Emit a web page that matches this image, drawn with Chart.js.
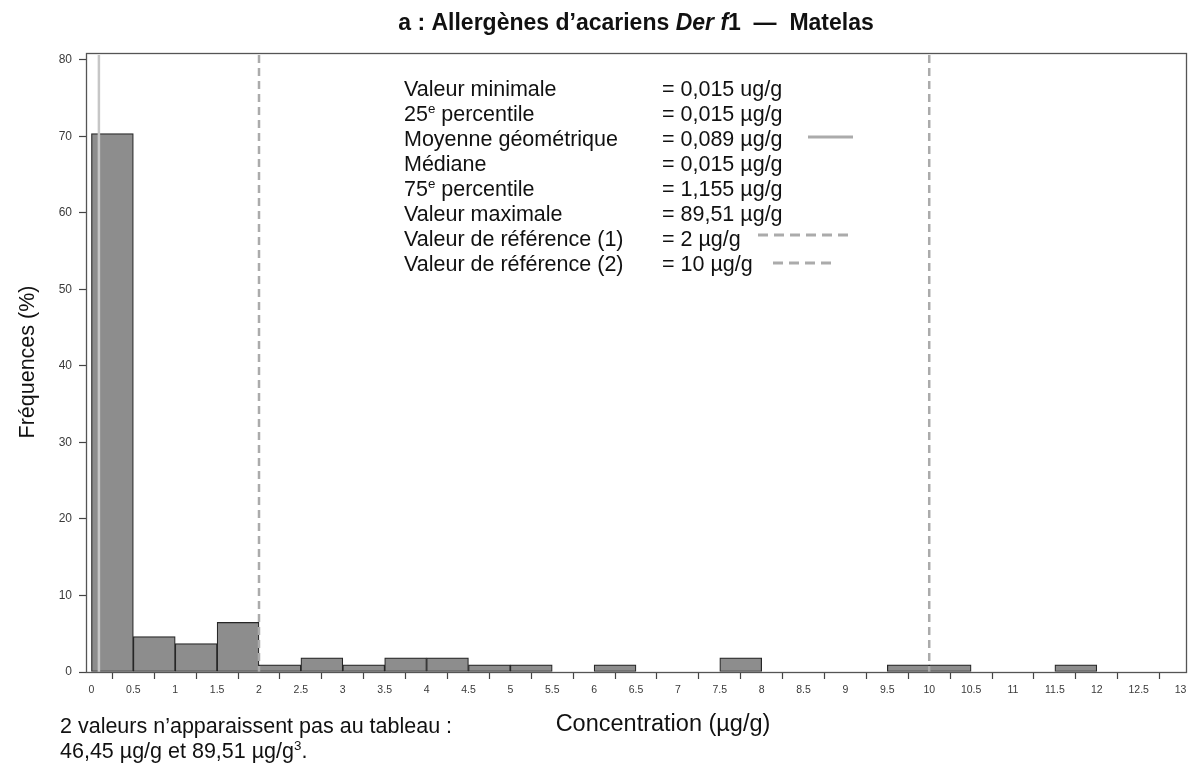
<!DOCTYPE html>
<html>
<head>
<meta charset="utf-8">
<script src="https://cdn.jsdelivr.net/npm/chart.js@4.4.1/dist/chart.umd.min.js"></script>
<style>
  html, body { margin: 0; padding: 0; background: #ffffff; }
  #wrap { width: 1195px; height: 764px; }
</style>
</head>
<body>
<div id="wrap"><canvas id="chart" width="1195" height="764"></canvas></div>
<script>
// Histogram bins (lower edge, µg/g) and frequency of samples in each bin (%)
const binStarts = [0, 0.5, 1, 1.5, 2, 2.5, 3, 3.5, 4, 4.5, 5, 5.5, 6, 6.5, 7, 7.5, 8, 8.5, 9, 9.5, 10, 10.5, 11, 11.5, 12, 12.5];
const frequencies = [70.37, 4.63, 3.70, 6.48, 0.93, 1.85, 0.93, 1.85, 1.85, 0.93, 0.93, 0, 0.93, 0, 0, 1.85, 0, 0, 0, 0.93, 0.93, 0, 0, 0.93, 0, 0];
const binWidth = 0.5;

// Axis ticks
const xTickValues = [0, 0.5, 1, 1.5, 2, 2.5, 3, 3.5, 4, 4.5, 5, 5.5, 6, 6.5, 7, 7.5, 8, 8.5, 9, 9.5, 10, 10.5, 11, 11.5, 12, 12.5, 13];
const yTickValues = [0, 10, 20, 30, 40, 50, 60, 70, 80];

// Reference lines
const geometricMean = 0.089;
const referenceValues = [2, 10];

// Summary table ('^' raises the next character)
const statLabels = [
  'Valeur minimale',
  '25^e percentile',
  'Moyenne géométrique',
  'Médiane',
  '75^e percentile',
  'Valeur maximale',
  'Valeur de référence (1)',
  'Valeur de référence (2)'
];
const statValues = [
  '= 0,015 ug/g',
  '= 0,015 µg/g',
  '= 0,089 µg/g',
  '= 0,015 µg/g',
  '= 1,155 µg/g',
  '= 89,51 µg/g',
  '= 2 µg/g',
  '= 10 µg/g'
];

const titleParts = [
  { text: 'a : Allergènes d’acariens ', italic: false },
  { text: 'Der f', italic: true },
  { text: '1  —  Matelas', italic: false }
];
const xTitle = 'Concentration (µg/g)';
const yTitle = 'Fréquences (%)';
const noteLines = ['2 valeurs n’apparaissent pas au tableau :', '46,45 µg/g et 89,51 µg/g^3.'];

const FAMILY = '"Liberation Sans", Arial, Helvetica, sans-serif';

function drawRich(ctx, str, x, y, size, color) {
  const parts = [];
  for (let i = 0; i < str.length; i++) {
    if (str[i] === '^') { parts.push({ t: str[i + 1], sup: true }); i++; }
    else if (parts.length && !parts[parts.length - 1].sup) parts[parts.length - 1].t += str[i];
    else parts.push({ t: str[i], sup: false });
  }
  ctx.fillStyle = color;
  ctx.textAlign = 'left';
  ctx.textBaseline = 'alphabetic';
  let cx = x;
  for (const p of parts) {
    const s = p.sup ? size * 0.62 : size;
    ctx.font = s + 'px ' + FAMILY;
    ctx.fillText(p.t, cx, p.sup ? y - size * 0.38 : y);
    cx += ctx.measureText(p.t).width;
  }
}

const overlay = {
  id: 'overlay',
  afterDatasetsDraw(chart) {
    const { ctx, chartArea: a, scales: { x } } = chart;
    ctx.save();
    // geometric mean
    ctx.strokeStyle = '#c6c6c6';
    ctx.lineWidth = 2.5;
    const gx = x.getPixelForValue(geometricMean);
    ctx.beginPath(); ctx.moveTo(gx, a.top + 2); ctx.lineTo(gx, a.bottom); ctx.stroke();
    // reference values
    ctx.strokeStyle = '#ababab';
    ctx.setLineDash([8, 5]);
    for (const v of referenceValues) {
      const px = x.getPixelForValue(v);
      ctx.beginPath(); ctx.moveTo(px, a.top + 2); ctx.lineTo(px, a.bottom); ctx.stroke();
    }
    ctx.restore();
  },
  afterDraw(chart) {
    const { ctx, chartArea: a } = chart;
    ctx.save();
    // plot frame
    ctx.strokeStyle = '#555555';
    ctx.lineWidth = 1.3;
    ctx.strokeRect(Math.round(a.left) + 0.5, Math.round(a.top) + 0.5, Math.round(a.right - a.left), Math.round(a.bottom - a.top));

    // title
    const tSize = 23;
    let total = 0;
    for (const p of titleParts) {
      ctx.font = (p.italic ? 'italic ' : '') + 'bold ' + tSize + 'px ' + FAMILY;
      total += ctx.measureText(p.text).width;
    }
    let tx = 636 - total / 2;
    ctx.fillStyle = '#111111';
    ctx.textBaseline = 'alphabetic';
    ctx.textAlign = 'left';
    for (const p of titleParts) {
      ctx.font = (p.italic ? 'italic ' : '') + 'bold ' + tSize + 'px ' + FAMILY;
      ctx.fillText(p.text, tx, 30);
      tx += ctx.measureText(p.text).width;
    }

    // summary table
    const fs = 21.5;
    statLabels.forEach((lab, i) => {
      const by = 96 + 25 * i;
      drawRich(ctx, lab, 404, by, fs, '#111111');
      drawRich(ctx, statValues[i], 662, by, fs, '#111111');
    });
    // legend line samples
    ctx.lineWidth = 3;
    ctx.strokeStyle = '#ababab';
    ctx.beginPath(); ctx.moveTo(808, 137); ctx.lineTo(853, 137); ctx.stroke();
    ctx.setLineDash([10, 6]);
    ctx.beginPath(); ctx.moveTo(758, 235); ctx.lineTo(853, 235); ctx.stroke();
    ctx.beginPath(); ctx.moveTo(773, 263); ctx.lineTo(836, 263); ctx.stroke();
    ctx.setLineDash([]);

    // axis titles
    ctx.fillStyle = '#111111';
    ctx.font = '23.5px ' + FAMILY;
    ctx.textAlign = 'center';
    ctx.fillText(xTitle, 663, 731);
    ctx.font = fs + 'px ' + FAMILY;
    ctx.save();
    ctx.translate(34, 362);
    ctx.rotate(-Math.PI / 2);
    ctx.textBaseline = 'alphabetic';
    ctx.fillText(yTitle, 0, 0);
    ctx.restore();

    // note
    drawRich(ctx, noteLines[0], 60, 733, fs, '#111111');
    drawRich(ctx, noteLines[1], 60, 758, fs, '#111111');
    ctx.restore();
  }
};

new Chart(document.getElementById('chart'), {
  type: 'bar',
  data: {
    datasets: [{
      data: binStarts.map((s, i) => ({ x: s + binWidth / 2, y: frequencies[i] > 0 ? frequencies[i] : null })),
      backgroundColor: '#8d8d8d',
      borderColor: '#262626',
      borderWidth: 1.2,
      borderSkipped: false,
      barPercentage: 1,
      categoryPercentage: 1,
      grouped: false
    }]
  },
  options: {
    responsive: false,
    animation: false,
    devicePixelRatio: 1,
    layout: { padding: { top: 53, right: 9, left: 0, bottom: 0 } },
    plugins: { legend: { display: false }, tooltip: { enabled: false }, title: { display: false } },
    scales: {
      x: {
        type: 'linear',
        min: -0.065,
        max: 13.065,
        offset: false,
        afterBuildTicks: s => { s.ticks = xTickValues.map(v => ({ value: v })); },
        afterFit: s => { s.height = 92; s.paddingLeft = 0; s.paddingRight = 0; },
        ticks: {
          autoSkip: false, maxRotation: 0, minRotation: 0, padding: 5,
          color: '#3a3a3a', font: { family: FAMILY, size: 10.5 },
          callback: v => String(v)
        },
        grid: { drawOnChartArea: false, drawTicks: true, tickLength: 7, tickColor: '#444444', tickWidth: 1.2 },
        border: { display: false }
      },
      y: {
        type: 'linear',
        min: 0,
        max: 80.9,
        afterBuildTicks: s => { s.ticks = yTickValues.map(v => ({ value: v })); },
        afterFit: s => { s.width = 86; s.paddingTop = 0; s.paddingBottom = 0; },
        ticks: {
          padding: 7, color: '#3a3a3a', font: { family: FAMILY, size: 12 },
          callback: v => String(v)
        },
        grid: { drawOnChartArea: false, drawTicks: true, tickLength: 7, tickColor: '#444444', tickWidth: 1.2 },
        border: { display: false }
      }
    }
  },
  plugins: [overlay]
});
</script>
</body>
</html>
